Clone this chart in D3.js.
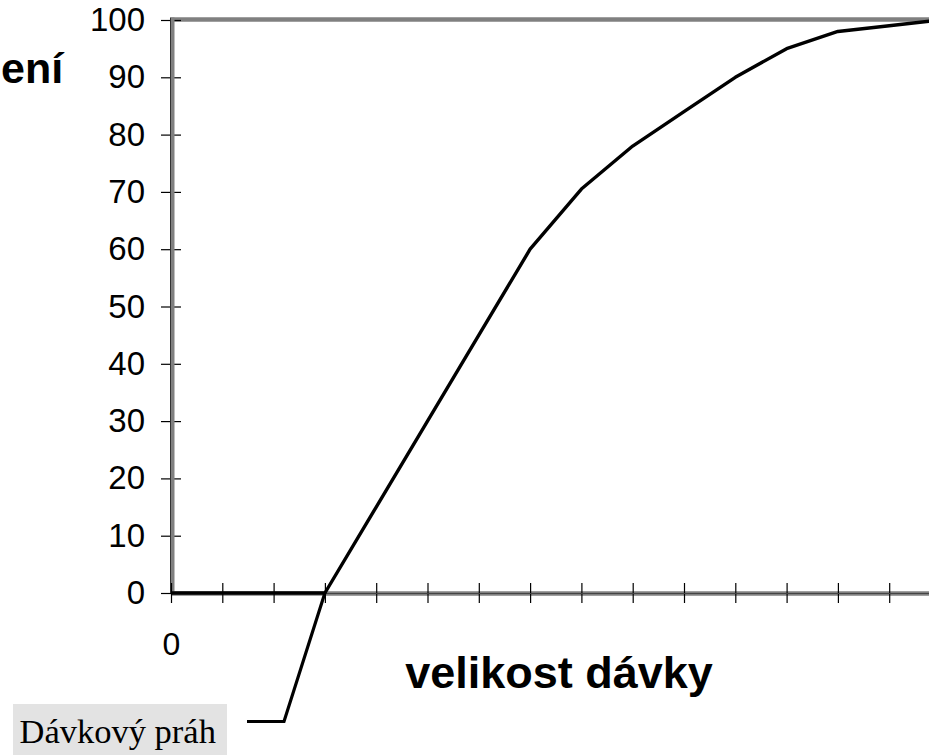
<!DOCTYPE html>
<html>
<head>
<meta charset="utf-8">
<script src="https://cdn.jsdelivr.net/npm/d3@7"></script>
<style>
  html, body { margin: 0; padding: 0; background: #fff; }
  svg { display: block; }
</style>
</head>
<body>
<svg id="chart" width="929" height="755"></svg>
<script>
// ---- data ----
const doseSteps = [0, 1, 2, 3, 4, 5, 6, 7, 8, 9, 10, 11, 12, 13, 14, 15];
const responseValues = [0, 0, 0, 0, 15, 30, 45, 60, 70.5, 78, 84, 90, 95, 98, 99, 100];
const yTickValues = [0, 10, 20, 30, 40, 50, 60, 70, 80, 90, 100];
const xTickValues = [0, 1, 2, 3, 4, 5, 6, 7, 8, 9, 10, 11, 12, 13, 14];
const xTickLabels = ["0"];
const thresholdStep = 3;
const xTitle = "velikost dávky";
const yTitle = "ení";
const thresholdLabel = "Dávkový práh";

// ---- layout ----
const svg = d3.select("#chart");
const x = d3.scaleLinear().domain([0, 15]).range([171, 171 + 15 * 51.3]);
const y = d3.scaleLinear().domain([0, 100]).range([593, 20]);

// top border of plot area
svg.append("line")
  .attr("x1", 171).attr("x2", 929)
  .attr("y1", y(100) - 0.5).attr("y2", y(100) - 0.5)
  .attr("stroke", "#808080").attr("stroke-width", 4.5);

// y axis
const yAxis = svg.append("g").attr("transform", `translate(${x(0)},0)`)
  .call(d3.axisLeft(y).tickValues(yTickValues).tickSizeInner(10).tickSizeOuter(0).tickPadding(16));
yAxis.select(".domain").remove();
yAxis.append("line")
  .attr("x1", 1.5).attr("x2", 1.5).attr("y1", y(0)).attr("y2", y(100) - 2.5)
  .attr("stroke", "#808080").attr("stroke-width", 4);
yAxis.append("line")
  .attr("x1", -0.5).attr("x2", -0.5).attr("y1", y(0)).attr("y2", y(100) - 2.5)
  .attr("stroke", "#333").attr("stroke-width", 1);
yAxis.selectAll(".tick line").attr("x1", 10).attr("x2", -10).attr("stroke", "#000").attr("stroke-width", 1.2);
yAxis.selectAll(".tick text")
  .attr("font-family", "Liberation Sans, Arial, sans-serif").attr("font-size", 33).attr("fill", "#000");

// x axis
const xAxis = svg.append("g").attr("transform", `translate(0,${y(0)})`)
  .call(d3.axisBottom(x).tickValues(xTickValues).tickSizeInner(10).tickSizeOuter(0).tickPadding(29)
    .tickFormat((d, i) => xTickLabels[i] || ""));
xAxis.select(".domain").remove();
xAxis.insert("line", ":first-child")
  .attr("x1", x(0)).attr("x2", 929).attr("y1", 0.5).attr("y2", 0.5)
  .attr("stroke", "#808080").attr("stroke-width", 4.5);
xAxis.append("line")
  .attr("x1", x(0)).attr("x2", 929).attr("y1", 0.5).attr("y2", 0.5)
  .attr("stroke", "#444").attr("stroke-width", 1);
xAxis.selectAll(".tick line").attr("y1", -10).attr("y2", 10).attr("stroke", "#000").attr("stroke-width", 1.2);
xAxis.selectAll(".tick text")
  .attr("font-family", "Liberation Sans, Arial, sans-serif").attr("font-size", 32).attr("fill", "#000");

// response curve
const line = d3.line().x((d, i) => x(doseSteps[i])).y(d => y(d));
svg.append("path")
  .datum(responseValues)
  .attr("d", line)
  .attr("fill", "none").attr("stroke", "#000").attr("stroke-width", 3.4)
  .attr("stroke-linejoin", "round");

// titles
svg.append("text")
  .attr("x", 559).attr("y", 688).attr("text-anchor", "middle")
  .attr("font-family", "Liberation Sans, Arial, sans-serif").attr("font-weight", "bold")
  .attr("font-size", 45).attr("fill", "#000").text(xTitle);
svg.append("text")
  .attr("x", 1).attr("y", 83).attr("text-anchor", "start")
  .attr("font-family", "Liberation Sans, Arial, sans-serif").attr("font-weight", "bold")
  .attr("font-size", 43).attr("fill", "#000").text(yTitle);

// threshold annotation
svg.append("rect")
  .attr("x", 13).attr("y", 704).attr("width", 214).attr("height", 60)
  .attr("fill", "#e3e3e3");
svg.append("text")
  .attr("x", 19.5).attr("y", 743).attr("text-anchor", "start")
  .attr("font-family", "Liberation Serif, Times New Roman, serif")
  .attr("font-size", 34.5).attr("fill", "#000").text(thresholdLabel);

svg.append("path")
  .attr("d", d3.line()([[247, 721.5], [284, 721.5], [x(thresholdStep), y(0)]]))
  .attr("fill", "none").attr("stroke", "#000").attr("stroke-width", 3.2);
</script>
</body>
</html>
